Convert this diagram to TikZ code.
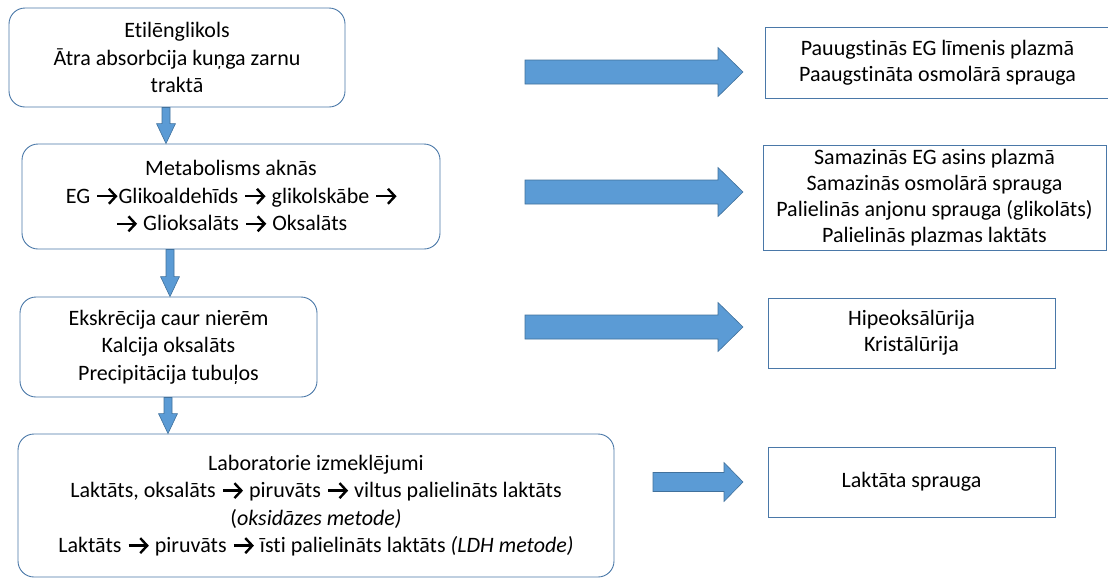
\documentclass[tikz,border=0pt]{standalone}
\usepackage{fontspec}
\setmainfont{Carlito}[Ligatures={NoCommon}, RawFeature={-calt;-dlig}]
\usetikzlibrary{calc}
\definecolor{arrf}{HTML}{5B9BD5}
\definecolor{arrd}{HTML}{41719C}
\definecolor{boxc}{HTML}{4A78A8}
\newcommand{\myarr}{\hspace{1pt}\tikz[baseline={(0pt,-7pt)}, x=1pt, y=1pt, sharp corners]{%
  \draw[black, line width=2.4pt, sharp corners] (0pt,0pt) -- (18pt,0pt);
  \draw[black, line width=2.4pt, sharp corners, line join=miter, miter limit=10] (11.5pt,7.5pt) -- (18.5pt,0pt) -- (11.5pt,-7.5pt);}\hspace{1.5pt}}
\tikzset{
  lbox/.style={draw=boxc, line width=0.9pt, rounded corners=16pt, align=center, inner sep=0pt,
               font=\fontsize{22}{27.5}\selectfont},
  rbox/.style={draw=boxc, line width=0.9pt, align=center, inner sep=0pt,
               font=\fontsize{22}{26}\selectfont},
  barrow/.style={fill=arrf, draw=arrd, line width=0.6pt, line join=miter},
}
\begin{document}
\begin{tikzpicture}[x=1pt,y=-1pt]
\useasboundingbox (0,0) rectangle (1108,579);
% left column
\node[lbox, minimum width=336pt, minimum height=99pt] (b1) at (177,57.5)
  {Etilēnglikols\\Ātra absorbcija kuņga zarnu\\traktā};
\node[lbox, minimum width=418pt, minimum height=105pt] (b2) at (231,196.5)
  {Metabolisms aknās\\EG \myarr{}Glikoaldehīds \myarr{} glikolskābe \myarr{}\\\myarr{} Glioksalāts \myarr{} Oksalāts};
\node[lbox, minimum width=297pt, minimum height=100pt] (b3) at (168.5,347)
  {Ekskrēcija caur nierēm\\Kalcija oksalāts\\Precipitācija tubuļos};
\node[lbox, minimum width=596pt, minimum height=143pt] (b4) at (316,505.5)
  {Laboratorie izmeklējumi\\Laktāts, oksalāts \myarr{} piruvāts \myarr{} viltus palielināts laktāts\\(\textit{oksidāzes metode)}\\Laktāts \myarr{} piruvāts \myarr{} īsti palielināts laktāts \textit{(LDH metode)}};
% right column
\node[rbox, minimum width=345pt, minimum height=71pt] (r1) at (937.5,62.5)
  {Pauugstinās EG līmenis plazmā\\Paaugstināta osmolārā sprauga};
\node[rbox, minimum width=343pt, minimum height=105pt] (r2) at (934.5,197.5)
  {Samazinās EG asins plazmā\\Samazinās osmolārā sprauga\\Palielinās anjonu sprauga (glikolāts)\\Palielinās plazmas laktāts};
\node[rbox, minimum width=287pt, minimum height=70pt] (r3) at (911.5,333)
  {Hipeoksālūrija\\Kristālūrija};
\node[rbox, minimum width=287pt, minimum height=70pt] (r4) at (911.5,482)
  {Laktāta sprauga};
% down arrows
\coordinate (x1) at (166,0);
\coordinate (x2) at (170,0);
\coordinate (x3) at (168,0);
\filldraw[barrow] let \p1=(x1|-b1.south), \p2=(x1|-b2.north) in
  (\x1-4,\y1) -- (\x1+4,\y1) -- (\x1+4,\y2+20) -- (\x1+9.5,\y2+20) -- (\x1,\y2)
  -- (\x1-9.5,\y2+20) -- (\x1-4,\y2+20) -- cycle;
\filldraw[barrow] let \p1=(x2|-b2.south), \p2=(x2|-b3.north) in
  (\x1-4,\y1) -- (\x1+4,\y1) -- (\x1+4,\y2+20) -- (\x1+9.5,\y2+20) -- (\x1,\y2)
  -- (\x1-9.5,\y2+20) -- (\x1-4,\y2+20) -- cycle;
\filldraw[barrow] let \p1=(x3|-b3.south), \p2=(x3|-b4.north) in
  (\x1-4,\y1) -- (\x1+4,\y1) -- (\x1+4,\y2+20) -- (\x1+9.5,\y2+20) -- (\x1,\y2)
  -- (\x1-9.5,\y2+20) -- (\x1-4,\y2+20) -- cycle;
% right block arrows
\coordinate (s1) at (525,72);  \coordinate (e1) at (743,72);
\coordinate (s2) at (525,192); \coordinate (e2) at (743,192);
\coordinate (s3) at (525,327); \coordinate (e3) at (743,327);
\coordinate (s4) at (653,482); \coordinate (e4) at (743,482);
\foreach \s/\e in {s1/e1, s2/e2, s3/e3}{
  \filldraw[barrow] let \p1=(\s), \p2=(\e) in
    (\x1,\y1+12) -- (\x2-25,\y1+12) -- (\x2-25,\y1+24.5) -- (\x2,\y1)
    -- (\x2-25,\y1-24.5) -- (\x2-25,\y1-12) -- (\x1,\y1-12) -- cycle;
}
\filldraw[barrow] let \p1=(s4), \p2=(e4) in
  (\x1,\y1+9.5) -- (\x2-19,\y1+9.5) -- (\x2-19,\y1+19.5) -- (\x2,\y1)
  -- (\x2-19,\y1-19.5) -- (\x2-19,\y1-9.5) -- (\x1,\y1-9.5) -- cycle;
\end{tikzpicture}
\end{document}
